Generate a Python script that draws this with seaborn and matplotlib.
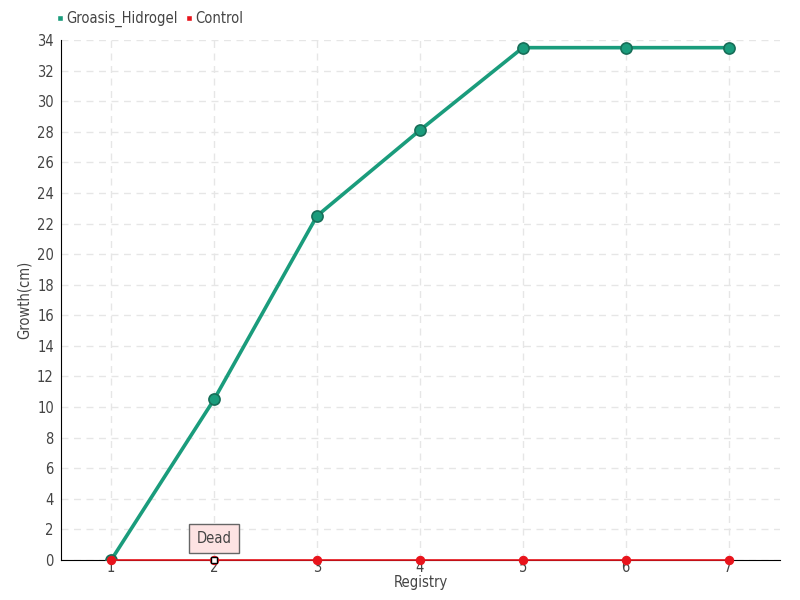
import matplotlib
matplotlib.use("Agg")
import matplotlib.pyplot as plt
import seaborn as sns
import pandas as pd

# -------------------- DATA --------------------
registry = [1, 2, 3, 4, 5, 6, 7]
groasis_hidrogel = [0, 10.5, 22.5, 28.1, 33.5, 33.5, 33.5]
control = [0, 0, 0, 0, 0, 0, 0]
y_ticks = list(range(0, 35, 2))

df = pd.DataFrame({"Registry": registry,
                   "Groasis_Hidrogel": groasis_hidrogel,
                   "Control": control})

# -------------------- PLOT --------------------
sns.set_style("white")
plt.rcParams['font.family'] = ['DejaVu Sans']
plt.rcParams['font.stretch'] = 'condensed'

fig = plt.figure(figsize=(8, 6), dpi=100)
ax = fig.add_axes([0.076, 0.0667, 0.899, 0.8666])

green = "#1a9c7c"
red = "#e8141c"

sns.lineplot(data=df, x="Registry", y="Groasis_Hidrogel", ax=ax, color=green,
             linewidth=2.6, marker="o", markersize=8, markeredgecolor="#176e58",
             markeredgewidth=1.2, zorder=3)
sns.lineplot(data=df, x="Registry", y="Control", ax=ax, color=red,
             linewidth=1.2, marker="o", markersize=6, markeredgecolor=red,
             zorder=4, clip_on=False)

ax.set_xlim(0.51, 7.5)
ax.set_ylim(0, 34)
ax.set_xticks(registry)
ax.set_yticks(y_ticks)
ax.tick_params(axis="y", labelsize=10.5, labelcolor="#444444", length=3,
               color="#444444", pad=2)
ax.tick_params(axis="x", labelsize=10.5, labelcolor="#444444", length=0, pad=0)
ax.grid(True, color="#e6e6e6", linestyle=(0, (5, 4)), linewidth=1)
for s in ["top", "right"]:
    ax.spines[s].set_visible(False)
ax.spines["left"].set_color("black")
ax.spines["bottom"].set_color("black")
ax.spines["bottom"].set_zorder(2)
ax.set_xlabel("Registry", fontsize=10.5, color="#444444", labelpad=0)
ax.set_ylabel("Growth(cm)", fontsize=10.5, color="#444444", labelpad=4)

# tooltip-like annotation on point 2
ax.plot([2], [0], marker="s", markersize=5, markerfacecolor="white",
        markeredgecolor="black", zorder=6, clip_on=False)
ax.annotate("Dead", xy=(2, 0), xytext=(2, 1.4), ha="center", va="center",
            fontsize=10.5, color="#444444",
            bbox=dict(boxstyle="square,pad=0.5", fc="#fde3e3", ec="#666666", lw=1),
            zorder=7)

# legend
ax.legend(handles=[plt.Line2D([], [], marker="s", color="w", markerfacecolor=green, markersize=5),
                   plt.Line2D([], [], marker="s", color="w", markerfacecolor=red, markersize=5)],
          labels=["Groasis_Hidrogel", "Control"], loc="lower left",
          bbox_to_anchor=(-0.025, 1.0), ncol=2, frameon=False, fontsize=10.5,
          handlelength=0.5, handletextpad=0.2, columnspacing=0.5,
          labelcolor="#444444")

fig.savefig("out.png", dpi=100)
